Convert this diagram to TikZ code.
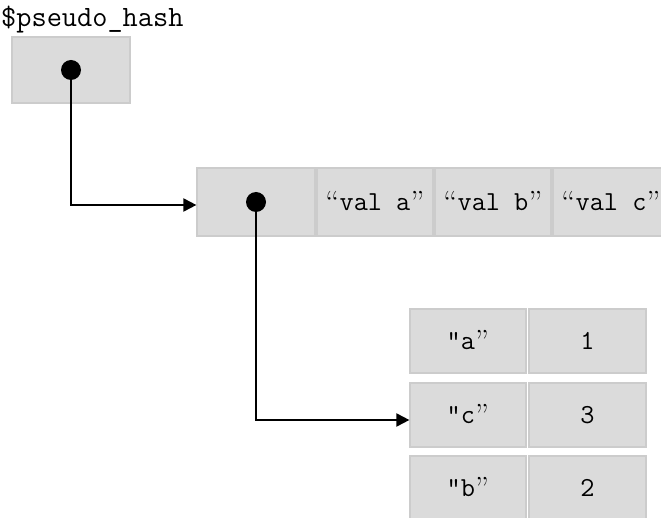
\documentclass[tikz,border=0pt]{standalone}
\usetikzlibrary{arrows.meta}
% curly quotes taken from the roman face, one typewriter cell wide
\newcommand{\opq}{\makebox[0.525em][c]{\raisebox{-3pt}{\rmfamily\fontsize{32}{32}\selectfont “}}}
\newcommand{\clq}{\makebox[0.525em][c]{\raisebox{-3pt}{\rmfamily\fontsize{32}{32}\selectfont ”}}}
\begin{document}
\begin{tikzpicture}[x=1pt,y=-1pt,>={Triangle[length=13pt,width=13pt]},
  font=\ttfamily\fontsize{27.5}{30}\selectfont,
  cell/.style={draw=gray!40,line width=1.2pt,fill=gray!28,minimum width=116pt,minimum height=64pt,inner sep=0pt},
  link/.style={->,line width=2pt}]
\useasboundingbox (0,0) rectangle (661,518);
% the variable
\node[anchor=base west,inner sep=0pt,font=\ttfamily\fontsize{29.5}{32}\selectfont] (name) at (1,27) {\$pseudo\_hash};
\node[cell,minimum width=118pt,minimum height=66pt] (ptr) at (71,70) {};
% the array
\node[cell,minimum width=118pt,minimum height=68pt] (v0) at (256,202) {};
\node[cell,minimum height=68pt] (v1) at (375,202) {\opq val a\clq};
\node[cell,minimum height=68pt] (v2) at (493,202) {\opq val b\clq};
\node[cell,minimum height=68pt] (v3) at (611,202) {\opq val c\clq};
% the hash
\node[cell] (ka) at (468,341) {"a\clq};
\node[cell,minimum width=117pt] (na) at (587.5,341) {1};
\node[cell] (kc) at (468,415) {"c\clq};
\node[cell,minimum width=117pt] (nc) at (587.5,415) {3};
\node[cell] (kb) at (468,488) {"b\clq};
\node[cell,minimum width=117pt] (nb) at (587.5,488) {2};
% references
\fill (ptr.center) circle (10pt) (v0.center) circle (10pt);
\draw[link] (ptr.center) |- ([yshift=-3pt]v0.west);
\draw[link] (v0.center) |- ([yshift=-5pt]kc.west);
\end{tikzpicture}
\end{document}
